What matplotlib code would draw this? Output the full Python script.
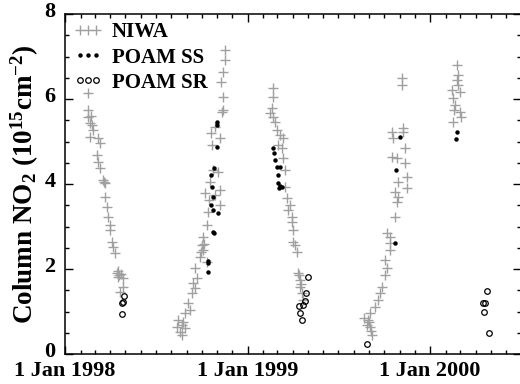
import numpy as np
import matplotlib
matplotlib.use('Agg')
import matplotlib.pyplot as plt
import matplotlib.dates as mdates
import matplotlib.transforms as mtransforms
from matplotlib.ticker import MultipleLocator, FuncFormatter

# days after 1 Jan 1998, column NO2 (1e15 cm-2)
niwa_day = [46, 46, 46, 50, 54, 56, 50, 52, 66, 70, 64, 66, 70, 76, 78, 80, 80, 84, 86, 90, 90,
            94, 96, 100, 104, 106, 106, 116, 116, 110, 108, 112,
            224, 226, 230, 234, 234, 236, 240, 240, 246, 250, 254, 256, 260, 260, 264, 270, 274,
            276, 276, 280, 284, 284, 286, 288, 290, 292, 294, 296, 300, 300, 306, 310, 310, 310,
            312, 314, 316, 316, 316, 320, 320, 272, 278,
            416, 416, 414, 410, 416, 420, 424, 430, 436, 426, 434, 436, 440, 440, 444, 450, 446,
            454, 454, 456, 456, 460, 464, 466, 470, 470, 474, 476, 468, 472,
            598, 604, 606, 610, 610, 614, 620, 626, 630, 634, 640, 640, 644, 650, 650, 650, 644,
            660, 664, 666, 660, 684, 666, 684, 680, 664, 654, 680, 656, 676, 654, 676, 674, 674,
            608, 612,
            784, 786, 784, 786, 774, 790, 776, 780, 778, 790, 792, 776]
niwa_val = [6.14, 5.74, 5.58, 5.44, 5.39, 5.27, 5.11, 5.6, 5.08, 4.96, 4.68, 4.52, 4.38, 4.09,
            4.05, 4.02, 3.69, 3.46, 3.22, 3.04, 2.92, 2.64, 2.52, 2.38, 1.91, 1.81, 1.95, 1.79,
            1.58, 1.46, 1.85, 1.88,
            0.64, 0.8, 0.52, 0.68, 0.45, 0.75, 0.96, 0.61, 1.2, 1.04, 1.44, 1.67, 2.02, 1.55,
            1.79, 2.28, 2.56, 2.75, 2.45, 3.79, 3.04, 2.16, 3.34, 3.62, 4.05, 5.2, 4.92, 4.33,
            5.34, 3.74, 4.28, 5.08, 3.86, 3.51, 6.4, 5.69, 6.64, 6.05, 5.74, 7.15, 6.92, 2.4, 2.6,
            6.26, 6.05, 5.79, 5.67, 5.58, 5.46, 5.27, 5.15, 5.08, 4.92, 4.85, 4.61, 4.33, 3.93,
            3.67, 3.51, 3.39, 3.22, 3.11, 2.92, 2.64, 2.56, 2.4, 1.91, 1.74, 1.58, 1.44, 1.27,
            1.85, 1.65,
            0.85, 0.68, 0.8, 0.96, 0.64, 0.45, 1.11, 1.27, 1.44, 1.58, 1.86, 2.21, 2.02, 2.45,
            2.61, 2.75, 2.85, 3.22, 3.58, 3.69, 3.81, 3.91, 4.05, 4.16, 4.49, 4.61, 4.64, 4.85,
            5.08, 5.22, 5.22, 5.32, 6.33, 6.49, 0.75, 0.55,
            6.8, 6.56, 6.45, 6.33, 6.21, 6.16, 6.02, 5.86, 5.74, 5.69, 5.58, 5.46]

ss_day = [304, 304, 304, 298, 292, 294, 296, 292, 296, 306, 296, 298, 286, 286, 286,
          416, 418, 420, 424, 430, 426, 426, 430, 434, 428,
          670, 662, 660,
          784, 782]
ss_val = [5.46, 5.39, 4.87, 4.38, 4.21, 3.93, 3.69, 3.51, 3.39, 3.32, 2.87, 2.85, 2.19, 2.14, 1.93,
          4.85, 4.73, 4.56, 4.4, 4.4, 4.21, 4.02, 3.95, 3.93, 3.91,
          5.11, 4.33, 2.61,
          5.22, 5.06]

sr_day = [118, 116, 114, 114,
          486, 482, 480, 476, 468, 470, 474,
          604,
          844, 836, 840, 838, 848]
sr_val = [1.36, 1.22, 1.2, 0.94,
          1.81, 1.44, 1.25, 1.15, 1.13, 0.96, 0.8,
          0.24,
          1.48, 1.2, 1.2, 0.99, 0.49]

start = np.datetime64('1998-01-01')


def to_date(days):
    return start + np.array(days).astype('timedelta64[D]')


plt.rcParams['font.family'] = 'Liberation Serif'
plt.rcParams['font.weight'] = 'bold'
plt.rcParams['mathtext.fontset'] = 'custom'
plt.rcParams['mathtext.rm'] = 'Liberation Serif:bold'
plt.rcParams['mathtext.it'] = 'Liberation Serif:bold'
plt.rcParams['mathtext.bf'] = 'Liberation Serif:bold'

fig = plt.figure(figsize=(5.2, 3.84), dpi=100)
ax = fig.add_axes([65 / 520, 30 / 384, 456 / 520, 340 / 384])

ax.plot(to_date(niwa_day), niwa_val, ls='none', marker='+', ms=6.5, mew=1.0,
        color='#a0a0a0', label='NIWA')
ax.plot(to_date(ss_day), ss_val, ls='none', marker='o', ms=3.2, mew=0,
        color='black', label='POAM SS')
ax.plot(to_date(sr_day), sr_val, ls='none', marker='o', ms=4, mew=0.9,
        mfc='none', mec='black', label='POAM SR')

ax.set_xlim(np.datetime64('1998-01-01'), np.datetime64('2000-07-01'))
ax.set_ylim(0, 8)

ax.xaxis.set_major_locator(mdates.YearLocator())
ax.xaxis.set_minor_locator(mdates.MonthLocator())
ax.xaxis.set_major_formatter(FuncFormatter(lambda v, p: '1 Jan %d' % mdates.num2date(v).year))
ax.yaxis.set_major_locator(MultipleLocator(2))
ax.yaxis.set_minor_locator(MultipleLocator(0.5))

ax.tick_params(which='both', direction='in', top=True, right=True, labelsize=16, width=1)
ax.tick_params(which='major', length=6)
ax.tick_params(which='minor', length=3)
ax.tick_params(axis='x', pad=5)
ax.tick_params(axis='y', pad=7)
for s in ax.spines.values():
    s.set_linewidth(1.1)

# nudge y tick labels up a little, like the original
shift = mtransforms.ScaledTranslation(0, 3 / 72, fig.dpi_scale_trans)
for lab in ax.get_yticklabels():
    lab.set_transform(lab.get_transform() + shift)

ax.set_ylabel(r'Column NO$_2$ (10$^{15}$cm$^{-2}$)', fontsize=19.5, fontweight='bold', labelpad=2)

leg = ax.legend(loc='upper left', frameon=False, numpoints=3, fontsize=15,
                handlelength=1.4, handletextpad=0.45, labelspacing=0.25,
                borderpad=0.1, borderaxespad=0.3)

fig.savefig('out.png', dpi=100)
